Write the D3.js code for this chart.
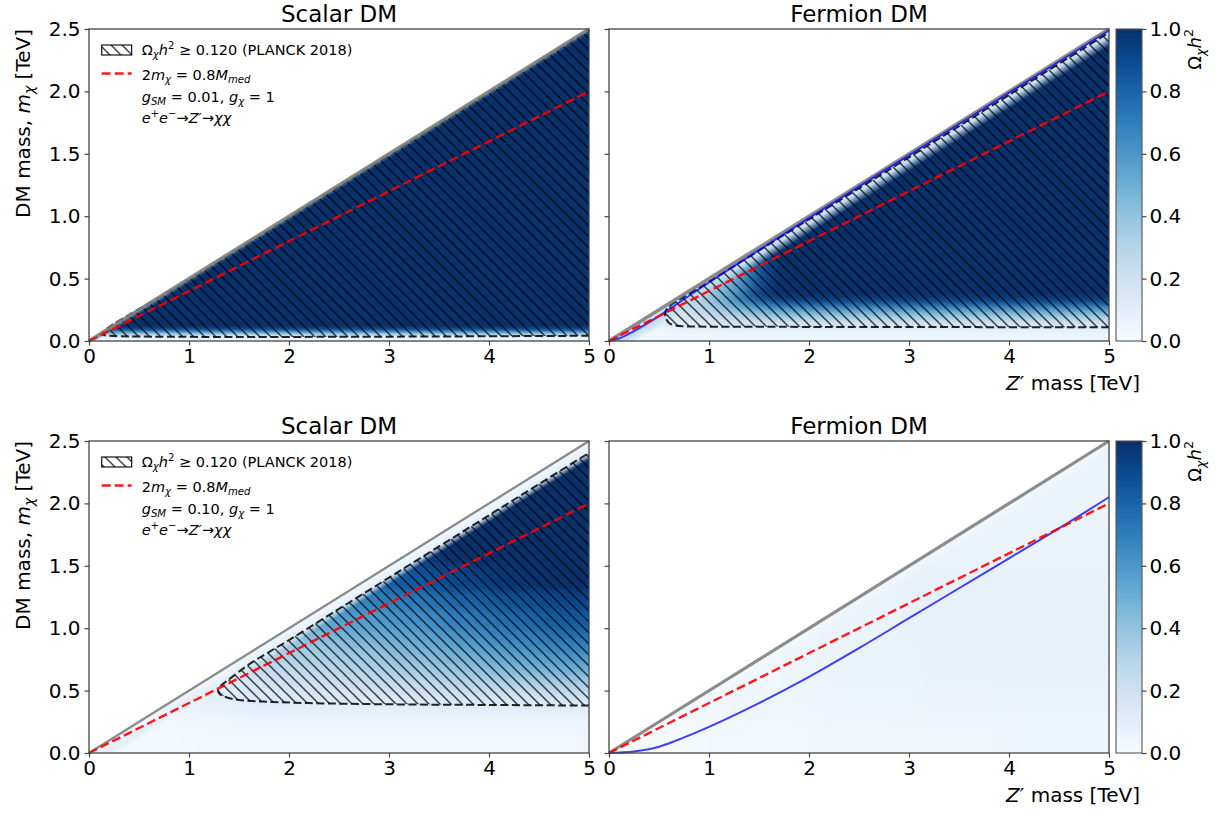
<!DOCTYPE html>
<html lang="en">
<head>
<meta charset="utf-8">
<title>Relic density of Z' portal dark matter</title>
<script src="https://d3js.org/d3.v7.min.js"></script>
<style>
  body { margin: 0; background: #fff; }
  text { font-family: "DejaVu Sans", sans-serif; fill: #000; }
</style>
</head>
<body>
<script>
// ---- data ----
var xTicks = [0, 1, 2, 3, 4, 5];
var yTicks = [0, 0.5, 1, 1.5, 2, 2.5];
var cbTicks = [0, 0.2, 0.4, 0.6, 0.8, 1.0];
var titles = ["Scalar DM", "Fermion DM", "Scalar DM", "Fermion DM"];
var gSM = ["0.01", "0.10"];

// kinematic limit and the 2m = 0.8M line
var diagM = [0, 5], diagMchi = [0, 2.5];
var redM = [0, 5], redMchi = [0, 2];

// top left: scalar, gSM = 0.01  (rows = m_chi edges, cols = M edges)
var tlCols = [0, 5];
var tlRows = [0, 0.03, 0.05, 0.07, 0.09, 0.11, 2.5];
var tlVals = [[0.04], [0.12], [0.35], [0.65], [0.9], [1.2]];
var tlBand = [[0, 0.35, 0.8], [0.02, 0.6, 0.5], [0.04, 0.6, 0]];
var tlContM = [5, 0.2, 0.14, 0.13, 1, 2, 3, 4, 5];
var tlContMchi = [0.042, 0.042, 0.05, 0.062, 0.49, 0.99, 1.49, 1.99, 2.49];

// top right: fermion, gSM = 0.01
var trCols = [0, 0.6, 0.8, 1.0, 1.2, 1.4, 1.6, 1.8, 2.2, 5];
var trRows = [0, 0.09, 0.12, 0.16, 0.2, 0.25, 0.3, 0.35, 0.4, 0.5, 0.6, 0.75, 2.5];
var trVals = [
  [0.03, 0.04, 0.04, 0.05, 0.05, 0.05, 0.05, 0.05, 0.05],
  [0.06, 0.08, 0.09, 0.09, 0.10, 0.10, 0.10, 0.10, 0.10],
  [0.10, 0.13, 0.15, 0.16, 0.17, 0.18, 0.18, 0.18, 0.18],
  [0.12, 0.16, 0.19, 0.22, 0.25, 0.27, 0.28, 0.28, 0.28],
  [0.14, 0.18, 0.23, 0.30, 0.36, 0.42, 0.45, 0.45, 0.45],
  [0.15, 0.20, 0.27, 0.38, 0.50, 0.60, 0.66, 0.68, 0.68],
  [0.15, 0.21, 0.30, 0.45, 0.65, 0.82, 0.90, 0.92, 0.92],
  [0.15, 0.20, 0.30, 0.45, 0.68, 0.95, 1.10, 1.20, 1.20],
  [0.15, 0.20, 0.28, 0.40, 0.60, 0.90, 1.10, 1.20, 1.20],
  [0.15, 0.20, 0.26, 0.36, 0.55, 0.85, 1.10, 1.20, 1.20],
  [0.15, 0.20, 0.25, 0.35, 0.50, 0.85, 1.10, 1.20, 1.20],
  [0.15, 0.20, 0.25, 0.35, 0.50, 0.90, 1.10, 1.20, 1.20]
];
var trBand = [[0, 0.1, 1], [0.06, 0.25, 1], [0.14, 0.3, 0]];
var trContM = [5, 2, 1, 0.75, 0.66, 0.6, 0.57, 0.56, 0.58, 1, 2, 3, 4, 5];
var trContMchi = [0.11, 0.113, 0.115, 0.118, 0.125, 0.145, 0.18, 0.22, 0.26, 0.475, 0.975, 1.472, 1.972, 2.472];
var trBlueM = [0, 0.1, 0.25, 0.5, 0.75, 1, 1.5, 2, 3, 4, 5];
var trBlueMchi = [0, 0.02, 0.08, 0.2, 0.335, 0.47, 0.728, 0.985, 1.488, 1.988, 2.488];

// bottom left: scalar, gSM = 0.10
var blCols = [0, 1, 1.5, 2, 2.5, 3, 3.5, 4, 4.5, 5];
var blRows = [0, 0.15, 0.3, 0.4, 0.5, 0.6, 0.7, 0.8, 0.9, 1.0, 1.15, 1.3, 1.5, 2.5];
var blVals = [
  [0.01, 0.02, 0.03, 0.03, 0.03, 0.03, 0.03, 0.03, 0.03],
  [0.02, 0.04, 0.05, 0.05, 0.05, 0.05, 0.05, 0.05, 0.05],
  [0.03, 0.07, 0.09, 0.09, 0.09, 0.09, 0.10, 0.10, 0.10],
  [0.04, 0.10, 0.14, 0.15, 0.15, 0.16, 0.17, 0.18, 0.19],
  [0.04, 0.11, 0.18, 0.20, 0.22, 0.25, 0.28, 0.30, 0.33],
  [0.04, 0.10, 0.24, 0.26, 0.30, 0.34, 0.38, 0.43, 0.47],
  [0.04, 0.10, 0.30, 0.32, 0.36, 0.41, 0.47, 0.53, 0.58],
  [0.04, 0.10, 0.35, 0.38, 0.42, 0.48, 0.55, 0.62, 0.68],
  [0.04, 0.10, 0.35, 0.45, 0.50, 0.55, 0.63, 0.70, 0.76],
  [0.04, 0.10, 0.35, 0.55, 0.58, 0.63, 0.70, 0.78, 0.84],
  [0.04, 0.10, 0.35, 0.60, 0.68, 0.72, 0.80, 0.87, 0.92],
  [0.04, 0.10, 0.35, 0.60, 0.78, 0.85, 0.92, 0.98, 1.02],
  [0.04, 0.10, 0.35, 0.60, 0.80, 0.95, 1.05, 1.10, 1.15]
];
var blBand = [[0, 0.02, 1], [0.09, 0.1, 1], [0.15, 0.1, 0]];
var blContM = [5, 4, 3, 2.2, 1.8, 1.5, 1.38, 1.31, 1.29, 1.32, 1.4, 1.6, 2, 2.5, 3, 3.5, 4, 4.5, 5];
var blContMchi = [0.38, 0.385, 0.39, 0.40, 0.41, 0.425, 0.445, 0.47, 0.505, 0.54, 0.59, 0.71, 0.905, 1.155, 1.405, 1.655, 1.905, 2.155, 2.405];

// bottom right: fermion, gSM = 0.10
var brCols = [0, 1, 2, 3, 4, 5];
var brRows = [0, 0.3, 0.6, 1.0, 1.5, 2.5];
var brVals = [
  [0.01, 0.03, 0.04, 0.04, 0.05],
  [0.02, 0.04, 0.05, 0.06, 0.06],
  [0.02, 0.04, 0.06, 0.07, 0.08],
  [0.02, 0.04, 0.06, 0.08, 0.08],
  [0.02, 0.04, 0.05, 0.06, 0.06]
];
var brBand = [[0, 0.0, 0.6], [0.1, 0.0, 0]];
var brBlueM = [0, 0.25, 0.5, 0.75, 1, 1.5, 2, 2.5, 3, 3.5, 4, 4.5, 5];
var brBlueMchi = [0, 0.012, 0.05, 0.125, 0.21, 0.4, 0.61, 0.84, 1.08, 1.32, 1.56, 1.80, 2.05];

// ---- layout ----
var W = 1225, H = 821;
var colX = [[89, 589], [609, 1109]];
var rowY = [[341, 29], [753, 441]];
var cbX = [1116, 1142];
var tickFont = "20px";

var color = d3.scaleSequential(d3.interpolateBlues).domain([0, 1]).clamp(true);

var svg = d3.select("body").append("svg").attr("width", W).attr("height", H);
var defs = svg.append("defs");

// hatch pattern "\\\\"
var hatch = defs.append("pattern").attr("id", "hatch")
  .attr("patternUnits", "userSpaceOnUse").attr("width", 11).attr("height", 11);
hatch.append("path").attr("d", "M0,0L11,11M-2,9L2,13M9,-2L13,2")
  .attr("stroke", "#000").attr("stroke-opacity", 0.72).attr("stroke-width", 1.55);

// colorbar gradient
var cbGrad = defs.append("linearGradient").attr("id", "cbgrad")
  .attr("x1", 0).attr("y1", 1).attr("x2", 0).attr("y2", 0);
d3.range(0, 1.001, 0.1).forEach(function(t) {
  cbGrad.append("stop").attr("offset", t).attr("stop-color", color(t));
});

function rich(sel, parts, size) {
  var shift = 0;
  parts.forEach(function(p) {
    var s = p[1] || "";
    var sub = s.indexOf("b") >= 0, sup = s.indexOf("p") >= 0;
    var target = sub ? 0.22 * size : (sup ? -0.42 * size : 0);
    sel.append("tspan")
      .attr("dy", target - shift)
      .style("font-style", s.indexOf("i") >= 0 ? "italic" : "normal")
      .style("font-size", (sub || sup) ? (size * 0.7) + "px" : size + "px")
      .text(p[0]);
    shift = target;
  });
}

var panels = [
  {cols: tlCols, rows: tlRows, vals: tlVals, band: tlBand, cM: tlContM, cm: tlContMchi, blur: "6 1.2", diagW: 3.6, r: 0, c: 0},
  {cols: trCols, rows: trRows, vals: trVals, band: trBand, cM: trContM, cm: trContMchi, blueM: trBlueM, bluem: trBlueMchi, blur: "9 3", diagW: 3.6, r: 0, c: 1},
  {cols: blCols, rows: blRows, vals: blVals, band: blBand, cM: blContM, cm: blContMchi, blur: "14 5", diagW: 2.3, r: 1, c: 0},
  {cols: brCols, rows: brRows, vals: brVals, band: brBand, blueM: brBlueM, bluem: brBlueMchi, blur: "25 15", diagW: 3.2, r: 1, c: 1}
];

panels.forEach(function(p, k) {
  var x = d3.scaleLinear().domain([0, 5]).range(colX[p.c]);
  var y = d3.scaleLinear().domain([0, 2.5]).range(rowY[p.r]);
  var g = svg.append("g");

  // clip to the allowed triangle m < M/2
  var clipId = "clip" + k;
  defs.append("clipPath").attr("id", clipId).append("path")
    .attr("d", "M" + x(0) + "," + y(0) + "L" + x(5) + "," + y(0) + "L" + x(5) + "," + y(2.5) + "Z");

  var f = defs.append("filter").attr("id", "blur" + k)
    .attr("filterUnits", "userSpaceOnUse")
    .attr("x", x(0) - 60).attr("y", y(2.5) - 60)
    .attr("width", x(5) - x(0) + 120).attr("height", y(0) - y(2.5) + 120)
    .attr("color-interpolation-filters", "sRGB");
  f.append("feGaussianBlur").attr("stdDeviation", p.blur);

  var cells = [];
  p.rows.slice(0, -1).forEach(function(r0, i) {
    p.cols.slice(0, -1).forEach(function(c0, j) {
      cells.push({x0: c0, x1: p.cols[j + 1], y0: r0, y1: p.rows[i + 1], v: p.vals[i][j]});
    });
  });
  var pad = 50;
  var heatClip = g.append("g").attr("clip-path", "url(#" + clipId + ")");
  var heat = heatClip.append("g").attr("filter", "url(#blur" + k + ")");
  heat.selectAll("rect").data(cells).join("rect")
    .attr("x", function(d) { return x(d.x0) - (d.x0 === 0 ? pad : 0); })
    .attr("width", function(d) { return x(d.x1) - x(d.x0) + (d.x0 === 0 ? pad : 0) + (d.x1 === 5 ? pad : 0) + 0.5; })
    .attr("y", function(d) { return y(d.y1) - (d.y1 === 2.5 ? pad : 0); })
    .attr("height", function(d) { return y(d.y0) - y(d.y1) + (d.y0 === 0 ? pad : 0) + (d.y1 === 2.5 ? pad : 0) + 0.5; })
    .attr("fill", function(d) { return color(d.v); });

  // light resonance band just below the kinematic limit
  var dx = x(5) - x(0), dy = y(2.5) - y(0), len = Math.sqrt(dx * dx + dy * dy);
  var ky = y(0) - y(1);
  var maxDepth = p.band[p.band.length - 1][0];
  var dist = maxDepth * ky * dx / len;
  var bg = defs.append("linearGradient").attr("id", "band" + k)
    .attr("gradientUnits", "userSpaceOnUse")
    .attr("x1", x(0)).attr("y1", y(0))
    .attr("x2", x(0) + (-dy / len) * dist).attr("y2", y(0) + (dx / len) * dist);
  p.band.forEach(function(b) {
    bg.append("stop").attr("offset", b[0] / maxDepth)
      .attr("stop-color", color(b[1])).attr("stop-opacity", b[2]);
  });
  heatClip.append("rect").attr("x", x(0)).attr("y", y(2.5))
    .attr("width", dx).attr("height", y(0) - y(2.5)).attr("fill", "url(#band" + k + ")");

  var line = d3.line().x(function(d) { return x(d[0]); }).y(function(d) { return y(d[1]); });
  var smooth = d3.line().curve(d3.curveCatmullRom.alpha(0.5))
    .x(function(d) { return x(d[0]); }).y(function(d) { return y(d[1]); });

  // hatched Omega h^2 >= 0.12 region and its contour
  if (p.cM) {
    var pts = d3.zip(p.cM, p.cm);
    g.append("path").attr("d", smooth(pts) + "Z")
      .attr("fill", "url(#hatch)").attr("clip-path", "url(#" + clipId + ")");
    g.append("path").attr("d", smooth(pts))
      .attr("fill", "none").attr("stroke", "#000").attr("stroke-opacity", 0.85)
      .attr("stroke-width", 2).attr("stroke-dasharray", "8,3.5");
  }

  // kinematic limit
  g.append("path").attr("d", line(d3.zip(diagM, diagMchi)))
    .attr("fill", "none").attr("stroke", "#808080").attr("stroke-opacity", 0.9).attr("stroke-width", p.diagW);

  if (p.blueM) {
    g.append("path").attr("d", d3.line().curve(d3.curveMonotoneX)
        .x(function(d) { return x(d[0]); }).y(function(d) { return y(d[1]); })(d3.zip(p.blueM, p.bluem)))
      .attr("fill", "none").attr("stroke", "#0000ff").attr("stroke-opacity", 0.75).attr("stroke-width", 2);
  }

  g.append("path").attr("d", line(d3.zip(redM, redMchi)))
    .attr("fill", "none").attr("stroke", "#ff0000").attr("stroke-opacity", 0.9)
    .attr("stroke-width", 2.4).attr("stroke-dasharray", "9,4");

  // frame
  g.append("rect").attr("x", x(0)).attr("y", y(2.5)).attr("width", dx).attr("height", y(0) - y(2.5))
    .attr("fill", "none").attr("stroke", "#444").attr("stroke-width", 1.3);

  // axes
  var xa = d3.axisBottom(x).tickValues(xTicks).tickFormat(d3.format("d")).tickSize(4.5).tickPadding(3);
  var xg = g.append("g").attr("transform", "translate(0," + y(0) + ")").call(xa);
  var ya = d3.axisLeft(y).tickValues(yTicks).tickFormat(p.c === 0 ? d3.format(".1f") : "").tickSize(4.5).tickPadding(4);
  var yg = g.append("g").attr("transform", "translate(" + x(0) + ",0)").call(ya);
  [xg, yg].forEach(function(a) {
    a.select(".domain").remove();
    a.selectAll(".tick line").attr("stroke", "#444").attr("stroke-width", 1.2);
    a.selectAll(".tick text").style("font-size", tickFont).style("font-family", "DejaVu Sans");
  });

  g.append("text").attr("x", (x(0) + x(5)) / 2).attr("y", y(2.5) - 7.5)
    .attr("text-anchor", "middle").style("font-size", "23px").text(titles[k]);

  if (p.c === 0) {
    var yl = g.append("text").attr("text-anchor", "end")
      .attr("transform", "translate(30," + y(2.5) + ") rotate(-90)");
    rich(yl, [["DM mass, "], ["m", "i"], ["\u03c7", "ib"], [" [TeV]"]], 20);

    // legend
    var lx = x(0) + 12.7, ly = y(2.5);
    g.append("rect").attr("x", lx).attr("y", ly + 16).attr("width", 30).attr("height", 10)
      .attr("fill", "url(#hatch)").attr("stroke", "#000").attr("stroke-width", 1.1);
    var t1 = g.append("text").attr("x", lx + 40).attr("y", ly + 26);
    rich(t1, [["\u03a9"], ["\u03c7", "ib"], ["h", "i"], ["2", "p"], [" \u2265 0.120 (PLANCK 2018)"]], 14.5);
    g.append("line").attr("x1", lx).attr("x2", lx + 30).attr("y1", ly + 44.5).attr("y2", ly + 44.5)
      .attr("stroke", "#ff0000").attr("stroke-opacity", 0.9).attr("stroke-width", 2.4).attr("stroke-dasharray", "9,4");
    var t2 = g.append("text").attr("x", lx + 40).attr("y", ly + 51);
    rich(t2, [["2"], ["m", "i"], ["\u03c7", "ib"], [" = 0.8"], ["M", "i"], ["med", "ib"]], 14.5);
    var t3 = g.append("text").attr("x", lx + 40).attr("y", ly + 72.5);
    rich(t3, [["g", "i"], ["SM", "ib"], [" = " + gSM[p.r] + ", "], ["g", "i"], ["\u03c7", "ib"], [" = 1"]], 14.5);
    var t4 = g.append("text").attr("x", lx + 40).attr("y", ly + 94);
    rich(t4, [["e", "i"], ["+", "p"], ["e", "i"], ["\u2212", "p"], ["\u2192"], ["Z\u2032", "i"], ["\u2192"], ["\u03c7\u03c7", "i"]], 14.5);
  } else {
    var xl = g.append("text").attr("text-anchor", "end").attr("x", 1140).attr("y", y(0) + 49);
    rich(xl, [["Z", "i"], ["\u2032 mass [TeV]"]], 20);

    // colorbar
    var cy = d3.scaleLinear().domain([0, 1]).range(rowY[p.r]);
    g.append("rect").attr("x", cbX[0]).attr("y", cy(1)).attr("width", cbX[1] - cbX[0]).attr("height", cy(0) - cy(1))
      .attr("fill", "url(#cbgrad)").attr("stroke", "#555").attr("stroke-width", 1.1);
    var ca = d3.axisRight(cy).tickValues(cbTicks).tickFormat(d3.format(".1f")).tickSize(4.5).tickPadding(3);
    var cg = g.append("g").attr("transform", "translate(" + cbX[1] + ",0)").call(ca);
    cg.select(".domain").remove();
    cg.selectAll(".tick line").attr("stroke", "#444").attr("stroke-width", 1.2);
    cg.selectAll(".tick text").style("font-size", tickFont).style("font-family", "DejaVu Sans");
    var cl = g.append("text").attr("text-anchor", "end")
      .attr("transform", "translate(1201," + cy(1) + ") rotate(-90)");
    rich(cl, [["\u03a9"], ["\u03c7", "ib"], ["h", "i"], ["2", "p"]], 18);
  }
});
</script>
</body>
</html>
